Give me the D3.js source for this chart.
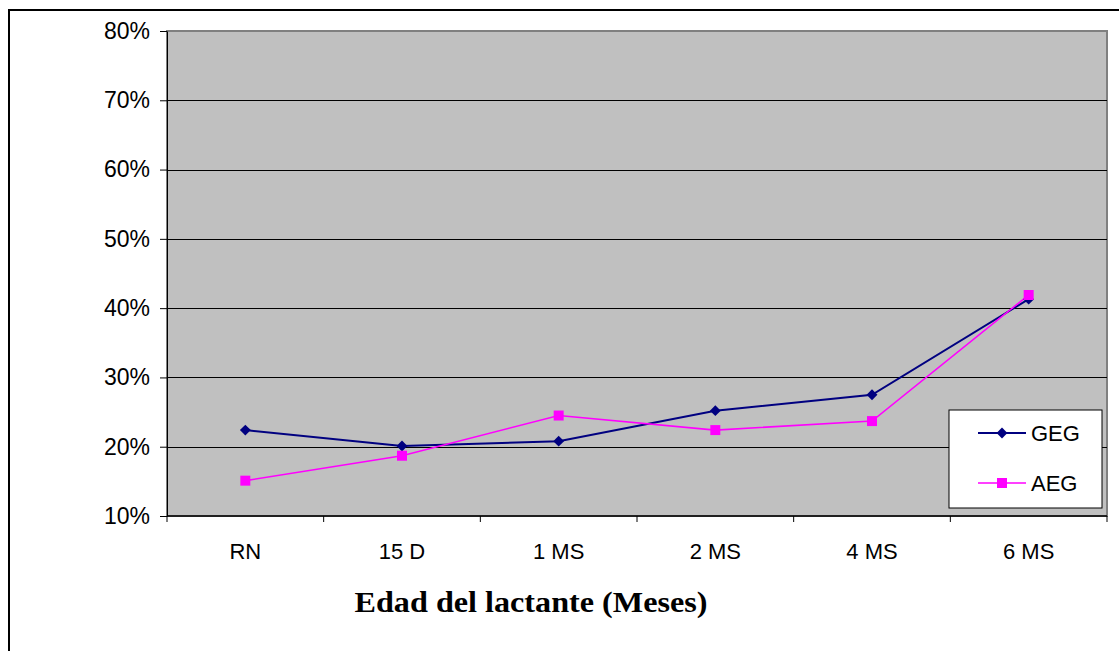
<!DOCTYPE html>
<html>
<head>
<meta charset="utf-8">
<script src="https://d3js.org/d3.v7.min.js"></script>
<style>
    body { margin: 0; background: #fff; }
</style>
</head>
<body>
<svg id="chart" width="1119" height="651"></svg>
<script>
    const categories = ["RN", "15 D", "1 MS", "2 MS", "4 MS", "6 MS"];
    const gegValues = [0.224, 0.201, 0.208, 0.252, 0.275, 0.413];
    const aegValues = [0.151, 0.187, 0.245, 0.224, 0.237, 0.419];
    const yTicks = [0.1, 0.2, 0.3, 0.4, 0.5, 0.6, 0.7, 0.8];
    const seriesNames = ["GEG", "AEG"];

    const sansFont = "Arial, 'Liberation Sans', sans-serif";
    const plot = { left: 167, top: 31, width: 940, height: 485 };
    const svg = d3.select("#chart");

    // outer frame (runs off the right and bottom edges)
    svg.append("rect")
        .attr("x", 9).attr("y", 10)
        .attr("width", 1130).attr("height", 660)
        .attr("fill", "none").attr("stroke", "#000").attr("stroke-width", 2);

    const xScale = d3.scaleBand().domain(categories).range([0, plot.width]);
    const yScale = d3.scaleLinear().domain([0.1, 0.8]).range([plot.height, 0]);

    const g = svg.append("g").attr("transform", `translate(${plot.left},${plot.top})`);

    g.append("rect")
        .attr("width", plot.width).attr("height", plot.height)
        .attr("fill", "#c0c0c0").attr("stroke", "#808080").attr("stroke-width", 2);

    // gridlines
    g.selectAll("line.grid")
        .data(yTicks.slice(1, -1))
        .enter().append("line")
        .attr("class", "grid")
        .attr("x1", 0).attr("x2", plot.width)
        .attr("y1", d => Math.round(yScale(d)) + 0.5)
        .attr("y2", d => Math.round(yScale(d)) + 0.5)
        .attr("stroke", "#000").attr("stroke-width", 1);

    const yAxis = g.append("g")
        .call(d3.axisLeft(yScale).tickValues(yTicks).tickFormat(d3.format(".0%"))
            .tickSizeInner(7).tickSizeOuter(0).tickPadding(10));
    yAxis.select(".domain").attr("stroke", "#000");
    yAxis.selectAll("text")
        .attr("font-size", 23).attr("font-family", sansFont).attr("fill", "#000");

    const xAxis = g.append("g")
        .attr("transform", `translate(0,${plot.height})`)
        .call(d3.axisBottom(xScale).tickSize(0).tickPadding(27));
    xAxis.select(".domain").remove();
    xAxis.selectAll("text")
        .attr("font-size", 22).attr("font-family", sansFont).attr("fill", "#000");
    xAxis.append("line")
        .attr("x1", 0).attr("x2", plot.width)
        .attr("stroke", "#000").attr("stroke-width", 1.5);
    xAxis.selectAll("line.sep")
        .data(d3.range(categories.length + 1))
        .enter().append("line")
        .attr("class", "sep")
        .attr("x1", i => i * xScale.step()).attr("x2", i => i * xScale.step())
        .attr("y1", 0).attr("y2", 6)
        .attr("stroke", "#000");

    const cx = d => xScale(d) + xScale.bandwidth() / 2;
    const line = d3.line().x(d => cx(d.k)).y(d => yScale(d.v));

    const gegData = categories.map((k, i) => ({ k: k, v: gegValues[i] }));
    const aegData = categories.map((k, i) => ({ k: k, v: aegValues[i] }));

    g.append("path").datum(gegData)
        .attr("d", line).attr("fill", "none")
        .attr("stroke", "#000080").attr("stroke-width", 2);
    g.append("path").datum(aegData)
        .attr("d", line).attr("fill", "none")
        .attr("stroke", "#ff00ff").attr("stroke-width", 1.6);

    const diamond = d3.symbol().type(d3.symbolDiamond2).size(75);
    const square = d3.symbol().type(d3.symbolSquare).size(100);

    g.selectAll("path.geg-pt")
        .data(gegData).enter().append("path")
        .attr("class", "geg-pt")
        .attr("d", diamond)
        .attr("transform", d => `translate(${cx(d.k)},${yScale(d.v)})`)
        .attr("fill", "#000080");
    g.selectAll("path.aeg-pt")
        .data(aegData).enter().append("path")
        .attr("class", "aeg-pt")
        .attr("d", square)
        .attr("transform", d => `translate(${cx(d.k)},${yScale(d.v)})`)
        .attr("fill", "#ff00ff");

    // legend
    const legend = svg.append("g").attr("transform", "translate(949,410)");
    legend.append("rect")
        .attr("width", 153).attr("height", 98)
        .attr("fill", "#fff").attr("stroke", "#000").attr("stroke-width", 1);
    const colors = ["#000080", "#ff00ff"];
    const symbols = [diamond, square];
    seriesNames.forEach((name, i) => {
        const y = 23 + i * 50;
        legend.append("line")
            .attr("x1", 29).attr("x2", 77).attr("y1", y).attr("y2", y)
            .attr("stroke", colors[i]).attr("stroke-width", i === 0 ? 2 : 1.6);
        legend.append("path")
            .attr("d", symbols[i])
            .attr("transform", `translate(53,${y})`)
            .attr("fill", colors[i]);
        legend.append("text")
            .attr("x", 82).attr("y", y + 8)
            .attr("font-size", 22).attr("font-family", sansFont)
            .text(name);
    });

    svg.append("text")
        .attr("x", 531).attr("y", 612)
        .attr("text-anchor", "middle")
        .attr("font-family", "'Times New Roman', 'Liberation Serif', serif")
        .attr("font-weight", "bold").attr("font-size", 30)
        .attr("textLength", 353).attr("lengthAdjust", "spacingAndGlyphs")
        .text("Edad del lactante (Meses)");
</script>
</body>
</html>
